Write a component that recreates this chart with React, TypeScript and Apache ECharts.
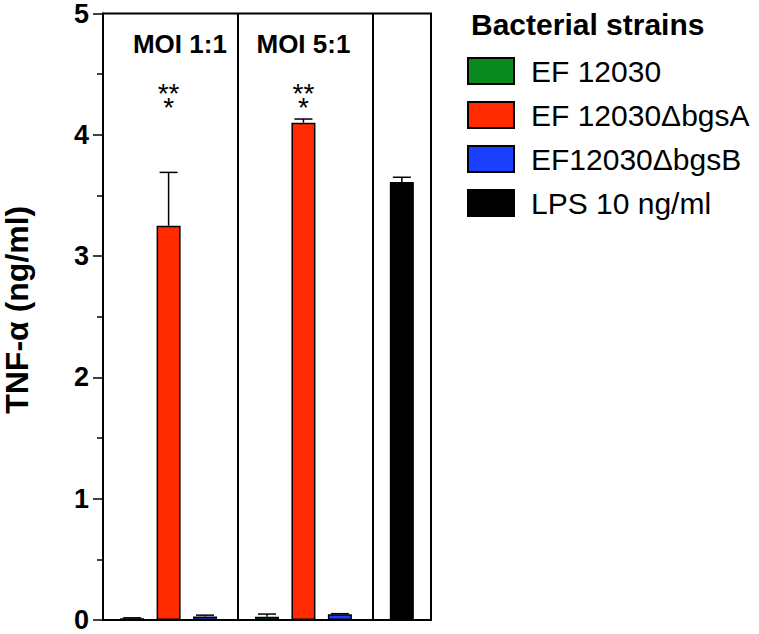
import React, { useEffect, useRef } from "react";
import * as echarts from "echarts";

const strainNames = ["EF 12030", "EF 12030ΔbgsA", "EF12030ΔbgsB", "LPS 10 ng/ml"];
const strainColors = ["#0a8a1e", "#ff2a00", "#1a40ff", "#000000"];

// x positions (slot units along the frame) of each bar
const greenX = [0.8, 4.5];
const redX = [1.8, 5.5];
const blueX = [2.8, 6.5];
const lpsX = [8.2];

// TNF-alpha values (ng/ml) and SEM
const greenVals = [0.015, 0.027];
const greenErr = [0.003, 0.022];
const redVals = [3.25, 4.1];
const redErr = [0.44, 0.03];
const blueVals = [0.028, 0.047];
const blueErr = [0.012, 0.005];
const lpsVals = [3.61];
const lpsErr = [0.04];

const dividerX = [3.7, 7.4];
const groupLabels = ["MOI 1:1", "MOI 5:1"];
const groupLabelX = [2.11, 5.5];
const groupLabelY = 4.75;
const starX = [1.8, 5.5];
const starY = 4.28;

const yTicks = [0, 1, 2, 3, 4, 5];

const FONT = "Liberation Sans, Arial, Helvetica, sans-serif";

export default function App() {
  const ref = useRef<HTMLDivElement>(null);
  useEffect(() => {
    if (!ref.current) return;
    const chart = echarts.init(ref.current, undefined, { renderer: "svg" });

    const xsList = [greenX, redX, blueX, lpsX];
    const valsList = [greenVals, redVals, blueVals, lpsVals];
    const errList = [greenErr, redErr, blueErr, lpsErr];

    const barSeries = strainNames.map((name, i) => ({
      name,
      type: "bar",
      barWidth: 24,
      barGap: "-100%",
      itemStyle: { color: strainColors[i], borderColor: "#000", borderWidth: 1.5 },
      data: xsList[i].map((x, j) => [x, valsList[i][j]]),
      z: 2,
    }));

    const errData: number[][] = [];
    xsList.forEach((xs, i) => xs.forEach((x, j) => errData.push([x, valsList[i][j], errList[i][j]])));

    const option: any = {
      animation: false,
      backgroundColor: "#fff",
      textStyle: { fontFamily: FONT },
      title: {
        text: "Bacterial strains",
        left: 471,
        top: 9,
        padding: 0,
        textStyle: { fontSize: 30, fontWeight: "bold", color: "#000", fontFamily: FONT },
      },
      legend: {
        data: strainNames,
        orient: "vertical",
        left: 467,
        top: 56,
        padding: 0,
        itemWidth: 46,
        itemHeight: 26,
        itemGap: 14,
        icon: "rect",
        selectedMode: false,
        textStyle: { fontSize: 30, color: "#000", fontFamily: FONT, padding: [0, 0, 0, 12], lineHeight: 26 },
      },
      grid: {
        left: 100,
        right: 328,
        top: 13,
        bottom: 14,
        show: true,
        borderColor: "#000",
        borderWidth: 2,
        backgroundColor: "transparent",
      },
      xAxis: {
        type: "value",
        min: 0,
        max: 9,
        axisLine: { show: true, lineStyle: { color: "#000", width: 2 } },
        axisTick: { show: false },
        axisLabel: { show: false },
        splitLine: { show: false },
      },
      yAxis: {
        type: "value",
        min: 0,
        max: 5,
        interval: 1,
        name: "TNF-α (ng/ml)",
        nameLocation: "middle",
        nameGap: 70,
        nameTextStyle: { fontSize: 32, fontWeight: "bold", color: "#000", fontFamily: FONT, padding: [0, 0, 0, 14] },
        axisLine: { show: true, lineStyle: { color: "#000", width: 2 } },
        axisTick: { show: true, length: 10, lineStyle: { color: "#000", width: 1.5 } },
        minorTick: { show: true, splitNumber: 2, length: 6, lineStyle: { color: "#000", width: 1.5 } },
        axisLabel: {
          fontSize: 27,
          fontWeight: "bold",
          color: "#000",
          margin: 14,
          fontFamily: FONT,
          formatter: (v: number) => (yTicks.includes(v) ? String(v) : ""),
        },
        splitLine: { show: false },
      },
      series: [
        ...barSeries,
        {
          name: "dividers",
          type: "line",
          data: [],
          markLine: {
            silent: true,
            symbol: "none",
            label: { show: false },
            lineStyle: { color: "#000", width: 2, type: "solid" },
            data: dividerX.map((x) => ({ xAxis: x })),
          },
        },
        {
          name: "errors",
          type: "custom",
          z: 3,
          data: errData,
          renderItem: (params: any, api: any) => {
            const x = api.value(0);
            const v = api.value(1);
            const e = api.value(2);
            const p0 = api.coord([x, v]);
            const p1 = api.coord([x, v + e]);
            const hw = 9;
            const style = { stroke: "#000", lineWidth: 1.5 };
            return {
              type: "group",
              children: [
                { type: "line", shape: { x1: p0[0], y1: p0[1], x2: p1[0], y2: p1[1] }, style },
                { type: "line", shape: { x1: p1[0] - hw, y1: p1[1], x2: p1[0] + hw, y2: p1[1] }, style },
              ],
            };
          },
        },
        {
          name: "groups",
          type: "scatter",
          silent: true,
          symbolSize: 0,
          itemStyle: { opacity: 1 },
          data: groupLabels.map((n, i) => ({ name: n, value: [groupLabelX[i], groupLabelY] })),
          label: {
            show: true,
            position: "inside",
            formatter: "{b}",
            fontSize: 26,
            fontWeight: "bold",
            color: "#000",
            opacity: 1,
            fontFamily: FONT,
          },
        },
        {
          name: "stars",
          type: "scatter",
          silent: true,
          symbolSize: 0,
          itemStyle: { opacity: 1 },
          data: starX.map((x) => [x, starY]),
          label: {
            show: true,
            position: "inside",
            formatter: "**\n*",
            fontSize: 28,
            lineHeight: 14,
            color: "#000",
            opacity: 1,
            fontFamily: FONT,
          },
        },
      ],
    };
    chart.setOption(option);
    return () => chart.dispose();
  }, []);
  return <div ref={ref} style={{ position: "absolute", left: 0, top: 0, width: 759, height: 634 }} />;
}
